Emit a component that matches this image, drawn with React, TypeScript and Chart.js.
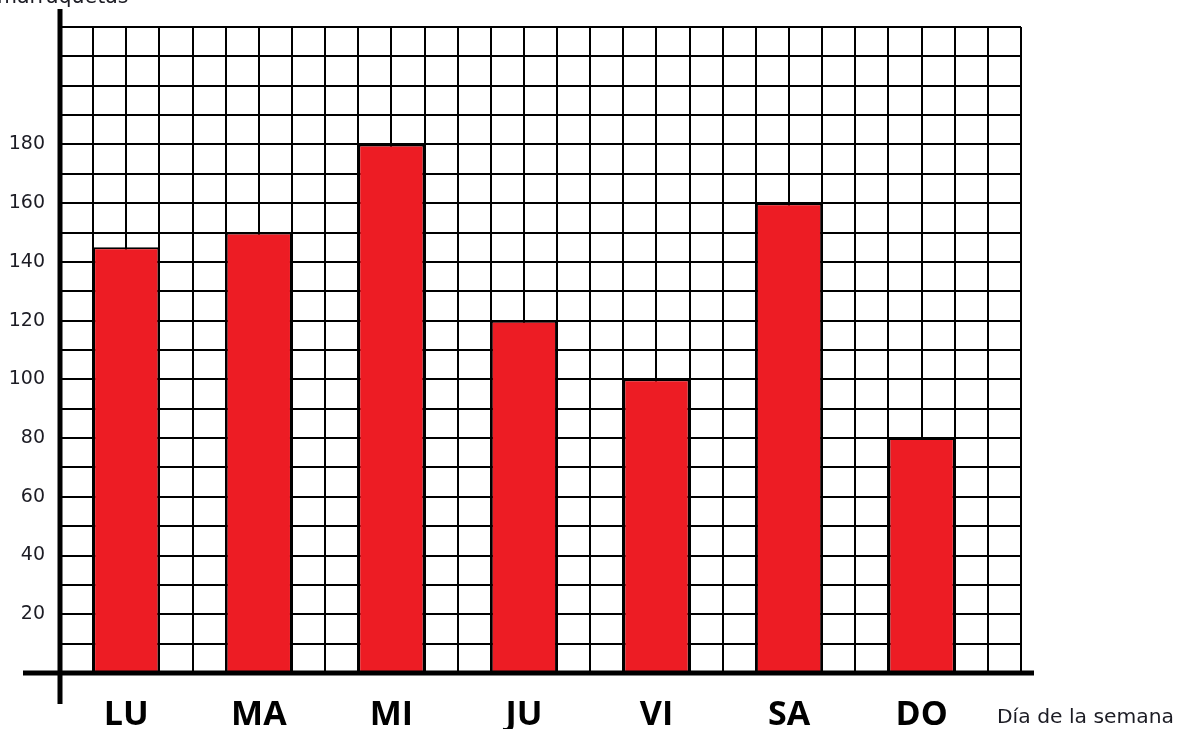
import React, { useEffect, useRef } from "react";
import { Chart, registerables } from "chart.js";

Chart.register(...registerables);

const days = ["LU", "MA", "MI", "JU", "VI", "SA", "DO"];
const values = [145, 150, 180, 120, 100, 160, 80];
const yTickLabels = [20, 40, 60, 80, 100, 120, 140, 160, 180];
const yMax = 220;
const yStep = 10;
const cellsPerDay = 4;
const totalCells = 29;
const xTitle = "Día de la semana";
const yTitle = "marraquetas";

export default function App() {
  const ref = useRef<HTMLCanvasElement | null>(null);

  useEffect(() => {
    if (!ref.current) return;
    const axesPlugin = {
      id: "thickAxes",
      afterDraw(chart: any) {
        const { ctx, scales } = chart;
        const x0 = scales.x.getPixelForValue(0);
        const y0 = scales.y.getPixelForValue(0);
        ctx.save();
        ctx.strokeStyle = "#000";
        ctx.lineWidth = 5;
        ctx.beginPath();
        ctx.moveTo(x0, 9);
        ctx.lineTo(x0, 704);
        ctx.stroke();
        ctx.beginPath();
        ctx.moveTo(23, y0);
        ctx.lineTo(1034, y0);
        ctx.stroke();
        ctx.fillStyle = "#1c1c24";
        ctx.font = "20.3px 'DejaVu Sans'";
        ctx.textBaseline = "alphabetic";
        ctx.textAlign = "left";
        ctx.fillText(xTitle, 997, 723);
        ctx.font = "20.5px 'DejaVu Sans'";
        ctx.fillText(yTitle, -3, 3);
        ctx.restore();
      },
    };

    const chart = new Chart(ref.current, {
      type: "bar",
      data: {
        datasets: [
          {
            data: values.map((v, i) => ({ x: cellsPerDay / 2 + cellsPerDay * i, y: v })),
            backgroundColor: "#ED1C24",
            borderColor: "#000",
            borderWidth: 2,
            borderSkipped: "bottom",
            categoryPercentage: 1,
            barPercentage: 2,
          },
        ],
      },
      options: {
        animation: false,
        responsive: false,
        layout: { padding: { top: 27, right: 160, bottom: 0, left: 0 } },
        plugins: { legend: { display: false }, tooltip: { enabled: false } },
        scales: {
          x: {
            type: "linear",
            min: 0,
            max: totalCells,
            offset: false,
            afterFit: (s: any) => {
              s.height = 56;
            },
            border: { display: false },
            grid: { color: "#000", lineWidth: 2, drawTicks: false, offset: false },
            ticks: {
              stepSize: 1,
              maxTicksLimit: 1000,
              autoSkip: false,
              maxRotation: 0,
              padding: 22,
              color: "#000",
              font: { family: "'Open Sans'", size: 34, weight: "bold" },
              callback: (v: any) => {
                const k = (Number(v) - cellsPerDay / 2) / cellsPerDay;
                return Number.isInteger(k) && k >= 0 && k < days.length ? days[k] : "";
              },
            },
          },
          y: {
            type: "linear",
            min: 0,
            max: yMax,
            afterFit: (s: any) => {
              s.width = 60;
            },
            border: { display: false },
            grid: { color: "#000", lineWidth: 2, drawTicks: false },
            ticks: {
              stepSize: yStep,
              maxTicksLimit: 1000,
              autoSkip: false,
              padding: 15,
              color: "#1c1c24",
              font: { family: "'DejaVu Sans'", size: 19 },
              callback: (v: any) => (yTickLabels.includes(Number(v)) ? String(v) : ""),
            },
          },
        },
      },
      plugins: [axesPlugin],
    });
    return () => chart.destroy();
  }, []);

  return (
    <div style={{ position: "absolute", left: 0, top: 0, width: 1181, height: 729, background: "#fff" }}>
      <canvas ref={ref} width={1181} height={729} style={{ display: "block" }} />
    </div>
  );
}
